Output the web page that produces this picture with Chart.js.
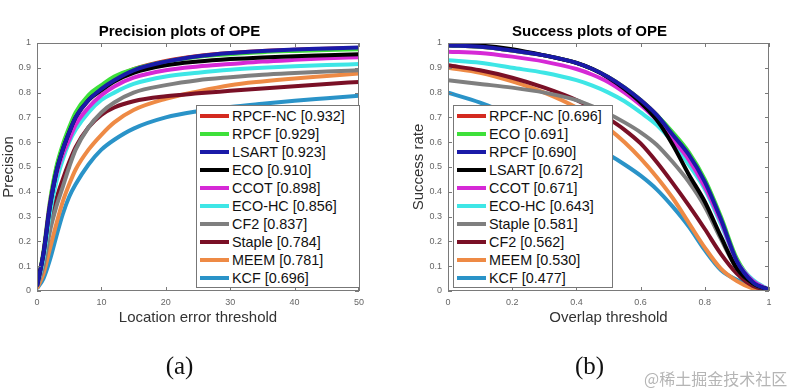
<!DOCTYPE html>
<html>
<head>
<meta charset="utf-8">
<script src="https://cdn.jsdelivr.net/npm/chart.js@4.4.1/dist/chart.umd.min.js"></script>
<style>
  body { margin: 0; background: #fff; width: 800px; height: 391px; position: relative; overflow: hidden; }
  .panel { position: absolute; top: 0; width: 400px; height: 391px; }
  .legend { position: absolute; background: #fff; border: 1px solid #777; font-family: "Liberation Sans", Arial, sans-serif; font-size: 14.4px; color: #111; padding-top: 1px; box-sizing: border-box; }
  .legend .row { height: 18px; line-height: 18px; white-space: nowrap; display: flex; align-items: center; }
  .legend .swatch { display: inline-block; width: 29px; height: 4px; margin-left: 3px; margin-right: 3px; }
  .watermark { position: absolute; left: 644px; top: 366px; font-family: "Noto Sans CJK SC", sans-serif; font-size: 16px; color: #b5b5b5; }
</style>
</head>
<body>
<div class="panel" style="left:0"><canvas id="precision" width="400" height="391"></canvas></div>
<div class="panel" style="left:400px"><canvas id="success" width="400" height="391"></canvas></div>
<div class="legend" id="legendA" style="left:196px; top:105px; width:164px; height:183px;"></div>
<div class="legend" id="legendB" style="left:453px; top:105px; width:160px; height:183px;"></div>
<div class="watermark">@稀土掘金技术社区</div>

<script>
// --- precision plot (location error threshold 0..50) ---
const precX = [0, 1, 2, 3, 4, 5, 6, 8, 10, 12, 15, 20, 25, 30, 35, 40, 45, 50];
const precNames = ['RPCF-NC', 'RPCF', 'LSART', 'ECO', 'CCOT', 'ECO-HC', 'CF2', 'Staple', 'MEEM', 'KCF'];
const precScores = ['0.932', '0.929', '0.923', '0.910', '0.898', '0.856', '0.837', '0.784', '0.781', '0.696'];
const precRPCFNC = [0.02, 0.15, 0.35, 0.49, 0.58, 0.65, 0.71, 0.78, 0.825, 0.86, 0.895, 0.928, 0.948, 0.96, 0.968, 0.973, 0.977, 0.98];
const precRPCF   = [0.02, 0.16, 0.36, 0.50, 0.59, 0.66, 0.72, 0.79, 0.83, 0.865, 0.895, 0.925, 0.945, 0.955, 0.963, 0.968, 0.972, 0.975];
const precLSART  = [0.02, 0.15, 0.34, 0.48, 0.57, 0.64, 0.70, 0.77, 0.815, 0.85, 0.89, 0.925, 0.947, 0.96, 0.968, 0.974, 0.978, 0.982];
const precECO    = [0.02, 0.15, 0.34, 0.48, 0.57, 0.64, 0.70, 0.77, 0.81, 0.845, 0.88, 0.91, 0.925, 0.935, 0.942, 0.947, 0.951, 0.955];
const precCCOT   = [0.02, 0.15, 0.35, 0.47, 0.55, 0.61, 0.67, 0.74, 0.79, 0.825, 0.86, 0.89, 0.905, 0.915, 0.925, 0.932, 0.938, 0.943];
const precECOHC  = [0.02, 0.13, 0.31, 0.44, 0.53, 0.60, 0.65, 0.72, 0.77, 0.80, 0.835, 0.865, 0.88, 0.892, 0.90, 0.906, 0.911, 0.915];
const precCF2    = [0.02, 0.10, 0.24, 0.34, 0.42, 0.50, 0.57, 0.66, 0.72, 0.76, 0.80, 0.83, 0.85, 0.862, 0.872, 0.879, 0.885, 0.89];
const precStaple = [0.03, 0.13, 0.26, 0.37, 0.45, 0.52, 0.58, 0.66, 0.71, 0.74, 0.765, 0.785, 0.797, 0.807, 0.817, 0.826, 0.835, 0.843];
const precMEEM   = [0.01, 0.07, 0.17, 0.27, 0.36, 0.43, 0.49, 0.57, 0.63, 0.68, 0.73, 0.775, 0.805, 0.83, 0.845, 0.857, 0.867, 0.877];
const precKCF    = [0.01, 0.05, 0.125, 0.22, 0.31, 0.38, 0.43, 0.51, 0.57, 0.61, 0.655, 0.70, 0.725, 0.742, 0.755, 0.767, 0.777, 0.787];
const precSeries = [precRPCFNC, precRPCF, precLSART, precECO, precCCOT, precECOHC, precCF2, precStaple, precMEEM, precKCF];
const precColors = ['#d42a20', '#3ee03a', '#1a1aa8', '#000000', '#d629d6', '#3ee6e6', '#7f7f7f', '#7a1026', '#ee8a45', '#2a93c8'];

// --- success plot (overlap threshold 0..1) ---
const succX = [0, 0.1, 0.2, 0.3, 0.4, 0.45, 0.5, 0.55, 0.6, 0.65, 0.7, 0.75, 0.8, 0.85, 0.9, 0.95, 1];
const succNames = ['RPCF-NC', 'ECO', 'RPCF', 'LSART', 'CCOT', 'ECO-HC', 'Staple', 'CF2', 'MEEM', 'KCF'];
const succScores = ['0.696', '0.691', '0.690', '0.672', '0.671', '0.643', '0.581', '0.562', '0.530', '0.477'];
const succRPCFNC = [0.99, 0.985, 0.97, 0.95, 0.92, 0.895, 0.862, 0.82, 0.77, 0.71, 0.63, 0.55, 0.44, 0.29, 0.12, 0.035, 0.005];
const succECO    = [0.99, 0.985, 0.97, 0.95, 0.92, 0.895, 0.862, 0.82, 0.77, 0.71, 0.64, 0.56, 0.45, 0.30, 0.13, 0.04, 0.005];
const succRPCF   = [0.99, 0.985, 0.97, 0.95, 0.92, 0.895, 0.862, 0.82, 0.77, 0.71, 0.63, 0.55, 0.44, 0.29, 0.12, 0.035, 0.005];
const succLSART  = [0.995, 0.99, 0.975, 0.95, 0.92, 0.895, 0.86, 0.815, 0.76, 0.69, 0.59, 0.47, 0.36, 0.22, 0.09, 0.03, 0.005];
const succCCOT   = [0.965, 0.96, 0.945, 0.925, 0.895, 0.872, 0.842, 0.80, 0.75, 0.69, 0.61, 0.53, 0.42, 0.28, 0.12, 0.04, 0.005];
const succECOHC  = [0.93, 0.92, 0.90, 0.88, 0.85, 0.828, 0.80, 0.765, 0.72, 0.67, 0.60, 0.51, 0.41, 0.27, 0.12, 0.045, 0.005];
const succStaple = [0.85, 0.835, 0.82, 0.80, 0.77, 0.745, 0.715, 0.68, 0.64, 0.59, 0.52, 0.44, 0.34, 0.21, 0.09, 0.03, 0.005];
const succCF2    = [0.91, 0.89, 0.86, 0.82, 0.77, 0.735, 0.695, 0.65, 0.595, 0.52, 0.435, 0.345, 0.25, 0.15, 0.07, 0.02, 0.003];
const succMEEM   = [0.90, 0.88, 0.845, 0.80, 0.74, 0.70, 0.655, 0.60, 0.535, 0.46, 0.375, 0.275, 0.175, 0.09, 0.04, 0.01, 0.002];
const succKCF    = [0.80, 0.76, 0.71, 0.665, 0.615, 0.585, 0.55, 0.51, 0.465, 0.41, 0.34, 0.26, 0.165, 0.085, 0.045, 0.015, 0.003];
const succSeries = [succRPCFNC, succECO, succRPCF, succLSART, succCCOT, succECOHC, succStaple, succCF2, succMEEM, succKCF];
const succColors = ['#d42a20', '#3ee03a', '#1a1aa8', '#000000', '#d629d6', '#3ee6e6', '#7f7f7f', '#7a1026', '#ee8a45', '#2a93c8'];

const tickFont = { family: 'Liberation Sans, Arial, sans-serif', size: 9 };
const labelFont = { family: 'Liberation Sans, Arial, sans-serif', size: 15 };

// box round the plot and little inward ticks on all four sides, like matlab
const boxPlugin = {
    id: 'box',
    afterDatasetsDraw(chart) {
        const { ctx, chartArea: a, scales } = chart;
        ctx.save();
        ctx.strokeStyle = '#7a7a7a';
        ctx.lineWidth = 1;
        ctx.strokeRect(a.left + 0.5, a.top + 0.5, a.right - a.left - 1, a.bottom - a.top - 1);
        ctx.beginPath();
        scales.x.ticks.forEach(t => {
            const px = Math.round(scales.x.getPixelForValue(t.value)) + 0.5;
            ctx.moveTo(px, a.bottom); ctx.lineTo(px, a.bottom - 4);
            ctx.moveTo(px, a.top); ctx.lineTo(px, a.top + 4);
        });
        scales.y.ticks.forEach(t => {
            const py = Math.round(scales.y.getPixelForValue(t.value)) + 0.5;
            ctx.moveTo(a.left, py); ctx.lineTo(a.left + 4, py);
            ctx.moveTo(a.right, py); ctx.lineTo(a.right - 4, py);
        });
        ctx.stroke();
        ctx.restore();
    }
};

// matlab style labels: 0, 0.1 ... 1 (no trailing zeros)
function shortTick(v) {
    return String(Number(v.toFixed(2)));
}

function makeChart(id, opts) {
    const datasets = opts.series.map((vals, i) => ({
        label: opts.names[i] + ' [' + opts.scores[i] + ']',
        data: vals.map((v, j) => ({ x: opts.xs[j], y: v })),
        borderColor: opts.colors[i],
        backgroundColor: opts.colors[i],
        borderWidth: 4,
        pointRadius: 0,
        cubicInterpolationMode: 'monotone',
        // red at the very bottom, green under the blue/black ones
        order: i === 0 ? 10 : (i === 1 ? 5 : 0)
    }));

    return new Chart(document.getElementById(id), {
        type: 'line',
        data: { datasets },
        plugins: [boxPlugin],
        options: {
            responsive: false,
            animation: false,
            layout: { padding: opts.padding },
            plugins: {
                legend: { display: false },
                tooltip: { enabled: false },
                title: {
                    display: true,
                    text: opts.title,
                    color: '#000',
                    font: { family: 'Liberation Sans, Arial, sans-serif', size: 15, weight: 'bold' },
                    padding: { top: 23, bottom: 2 }
                },
                subtitle: {
                    display: true,
                    position: 'bottom',
                    text: opts.tag,
                    color: '#111',
                    font: { family: 'Liberation Serif, Times New Roman, serif', size: 25 },
                    padding: { top: 0, bottom: 9 }
                }
            },
            scales: {
                x: {
                    type: 'linear',
                    min: opts.xmin, max: opts.xmax,
                    grid: { display: false, drawTicks: false },
                    border: { display: false },
                    ticks: { stepSize: opts.xstep, color: '#666', font: tickFont, padding: 6, maxRotation: 0, callback: shortTick },
                    title: { display: true, text: opts.xlabel, color: '#333', font: labelFont, padding: { top: 0, bottom: 25 } },
                    afterFit(s) { s.height = 61; }
                },
                y: {
                    min: 0, max: 1,
                    grid: { display: false, drawTicks: false },
                    border: { display: false },
                    ticks: { stepSize: 0.1, color: '#666', font: tickFont, padding: 6, callback: shortTick },
                    title: { display: true, text: opts.ylabel, color: '#333', font: labelFont, padding: { top: 0, bottom: 0 } },
                    afterFit(s) { s.width = opts.ywidth; }
                }
            }
        }
    });
}

function fillLegend(elId, chart) {
    const box = document.getElementById(elId);
    chart.data.datasets.forEach(ds => {
        const row = document.createElement('div');
        row.className = 'row';
        const sw = document.createElement('span');
        sw.className = 'swatch';
        sw.style.background = ds.borderColor;
        const txt = document.createElement('span');
        txt.textContent = ds.label;
        row.appendChild(sw);
        row.appendChild(txt);
        box.appendChild(row);
    });
}

const chartA = makeChart('precision', {
    xs: precX, series: precSeries, names: precNames, scores: precScores, colors: precColors,
    title: 'Precision plots of OPE', tag: '(a)',
    xlabel: 'Location error threshold', ylabel: 'Precision',
    xmin: 0, xmax: 50, xstep: 10,
    padding: { left: 0, right: 41, top: 0, bottom: 0 }, ywidth: 37
});

const chartB = makeChart('success', {
    xs: succX, series: succSeries, names: succNames, scores: succScores, colors: succColors,
    title: 'Success plots of OPE', tag: '(b)',
    xlabel: 'Overlap threshold', ylabel: 'Success rate',
    xmin: 0, xmax: 1, xstep: 0.2,
    padding: { left: 10, right: 31, top: 0, bottom: 0 }, ywidth: 38
});

fillLegend('legendA', chartA);
fillLegend('legendB', chartB);
</script>
</body>
</html>
